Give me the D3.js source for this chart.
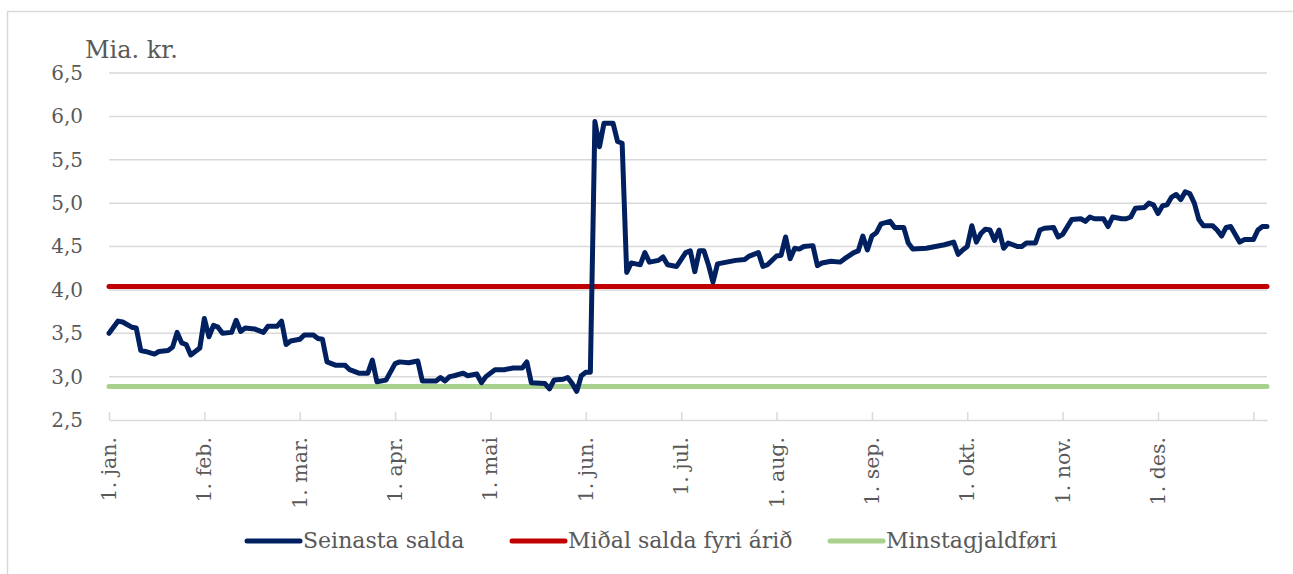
<!DOCTYPE html>
<html>
<head>
<meta charset="utf-8">
<script src="https://cdn.jsdelivr.net/npm/d3@7"></script>
<style>
body { margin: 0; background: #fff; }
.chart text { font-family: "DejaVu Serif", serif; fill: #595959; }
</style>
</head>
<body>
<div class="chart"></div>
<script>
// x = index of banking day, ticks every 21 days
var tickLabels = ["1. jan.", "1. feb.", "1. mar.", "1. apr.", "1. mai", "1. jun.",
    "1. jul.", "1. aug.", "1. sep.", "1. okt.", "1. nov.", "1. des."];
var tickStep = 21;
var lastIndex = 255;
var yTicks = [2.5, 3.0, 3.5, 4.0, 4.5, 5.0, 5.5, 6.0, 6.5];

var dayIndex = [0,2,3,5,6,7,8,10,11,13,14,15,16,17,18,20,21,22,23,24,25,27,28,29,30,32,34,35,37,38,39,40,42,43,45,46,47,48,50,52,53,55,57,58,59,61,63,64,66,68,69,72,73,74,75,76,78,79,81,82,83,85,87,89,91,92,93,96,97,98,100,101,102,103,104,105,106,107,108,109,111,112,113,114,115,116,117,118,119,121,122,123,125,127,128,129,130,131,132,133,134,136,138,140,141,143,144,145,147,148,149,150,151,152,153,155,156,157,159,161,162,164,165,166,167,168,169,170,172,173,175,176,177,180,182,184,186,187,188,189,190,191,192,193,194,195,196,197,198,200,201,202,204,205,206,208,209,210,212,214,215,216,217,219,220,221,223,224,225,226,228,229,230,231,232,233,234,235,236,237,238,239,240,241,243,244,245,246,247,249,250,252,253,254,255];
var seinastaSalda = [3.50,3.64,3.63,3.57,3.56,3.30,3.29,3.26,3.29,3.30,3.34,3.51,3.39,3.37,3.25,3.33,3.67,3.46,3.59,3.57,3.50,3.51,3.65,3.52,3.56,3.55,3.51,3.58,3.58,3.64,3.37,3.41,3.43,3.48,3.48,3.44,3.43,3.17,3.13,3.13,3.08,3.04,3.04,3.19,2.94,2.96,3.15,3.17,3.16,3.18,2.95,2.95,2.99,2.95,3.00,3.01,3.04,3.01,3.03,2.93,3.00,3.08,3.08,3.10,3.10,3.17,2.93,2.92,2.86,2.96,2.97,2.99,2.92,2.83,3.01,3.05,3.05,5.94,5.65,5.92,5.92,5.71,5.69,4.20,4.31,4.30,4.29,4.43,4.32,4.34,4.38,4.29,4.27,4.43,4.45,4.21,4.45,4.45,4.29,4.09,4.30,4.32,4.34,4.35,4.39,4.43,4.27,4.29,4.39,4.40,4.61,4.36,4.48,4.47,4.50,4.51,4.28,4.31,4.33,4.32,4.36,4.43,4.45,4.62,4.46,4.62,4.66,4.76,4.79,4.72,4.72,4.54,4.47,4.48,4.50,4.52,4.55,4.41,4.46,4.50,4.74,4.55,4.65,4.70,4.69,4.57,4.69,4.48,4.54,4.50,4.50,4.54,4.54,4.69,4.71,4.72,4.61,4.64,4.81,4.82,4.79,4.84,4.82,4.82,4.73,4.84,4.82,4.82,4.84,4.94,4.95,5.00,4.98,4.88,4.97,4.98,5.07,5.10,5.04,5.13,5.11,5.00,4.81,4.74,4.74,4.69,4.62,4.72,4.73,4.55,4.58,4.58,4.69,4.73,4.73];
var midalSalda = 4.04;
var minstagjaldfori = 2.885;

var seriesNames = ["Seinasta salda", "Miðal salda fyri árið", "Minstagjaldføri"];
var seriesColors = ["#002060", "#c00000", "#a9d18e"];

var svgWidth = 1293;
var svgHeight = 574;
var margin = { top: 73, right: 26, bottom: 154, left: 109 };
var width = svgWidth - margin.left - margin.right;
var height = svgHeight - margin.top - margin.bottom;

var root = d3.select(".chart")
    .append("svg")
    .attr("width", svgWidth)
    .attr("height", svgHeight);

// outer frame of the chart object
root.append("rect")
    .attr("x", 7.5)
    .attr("y", 11.5)
    .attr("width", svgWidth + 20)
    .attr("height", svgHeight + 20)
    .attr("fill", "none")
    .attr("stroke", "#d9d9d9")
    .attr("stroke-width", 1.5);

var chart = root.append("g")
    .attr("transform", "translate(" + margin.left + "," + margin.top + ")");

var xScale = d3.scaleLinear().domain([0, lastIndex]).range([0, width]);
var yScale = d3.scaleLinear().domain([2.5, 6.5]).range([height, 0]);

// gridlines
chart.append("g")
    .selectAll("line")
    .data(yTicks.slice(1))
    .enter().append("line")
        .attr("x1", 0)
        .attr("x2", width)
        .attr("y1", function(d) { return yScale(d); })
        .attr("y2", function(d) { return yScale(d); })
        .attr("stroke", "#d9d9d9")
        .attr("stroke-width", 1.5);

var leftAxis = d3.axisLeft(yScale)
    .tickValues(yTicks)
    .tickSize(0)
    .tickPadding(26)
    .tickFormat(function(d) { return d3.format(".1f")(d).replace(".", ","); });

var yAxis = chart.append("g").call(leftAxis);
yAxis.select(".domain").remove();
yAxis.selectAll("text").style("font-size", "20px");

var tickValues = d3.range(0, lastIndex, tickStep);
var bottomAxis = d3.axisBottom(xScale)
    .tickValues(tickValues)
    .tickSizeInner(-8)
    .tickSizeOuter(0)
    .tickFormat("");

var xAxis = chart.append("g")
    .attr("transform", "translate(0," + height + ")")
    .call(bottomAxis);
xAxis.select(".domain").attr("stroke", "#d9d9d9").attr("stroke-width", 1.5);
xAxis.selectAll(".tick line").attr("stroke", "#d9d9d9").attr("stroke-width", 1.5);

chart.append("g")
    .selectAll("text")
    .data(tickLabels)
    .enter().append("text")
        .attr("transform", function(d, i) {
            return "translate(" + (xScale(tickValues[i]) + 7) + "," + (height + 17) + ") rotate(-90)";
        })
        .attr("text-anchor", "end")
        .style("font-size", "20.5px")
        .text(function(d) { return d; });

// y axis title
root.append("text")
    .attr("x", 85)
    .attr("y", 58)
    .style("font-size", "24px")
    .text("Mia. kr.");

var line = d3.line()
    .x(function(d) { return xScale(d[0]); })
    .y(function(d) { return yScale(d[1]); });

var flatLines = [
    { value: midalSalda, color: seriesColors[1] },
    { value: minstagjaldfori, color: seriesColors[2] }
];

flatLines.forEach(function(s) {
    chart.append("path")
        .datum([[0, s.value], [lastIndex, s.value]])
        .attr("d", line)
        .attr("fill", "none")
        .attr("stroke", s.color)
        .attr("stroke-width", 5)
        .attr("stroke-linecap", "round");
});

chart.append("path")
    .datum(dayIndex.map(function(d, i) { return [d, seinastaSalda[i]]; }))
    .attr("d", line)
    .attr("fill", "none")
    .attr("stroke", seriesColors[0])
    .attr("stroke-width", 5)
    .attr("stroke-linejoin", "round")
    .attr("stroke-linecap", "round");

// legend
var legendX = [245, 510, 828];
var legend = root.append("g")
    .selectAll("g")
    .data(seriesNames)
    .enter().append("g")
        .attr("transform", function(d, i) { return "translate(" + legendX[i] + ",541)"; });

legend.append("line")
    .attr("x1", 2)
    .attr("x2", 55)
    .attr("stroke", function(d, i) { return seriesColors[i]; })
    .attr("stroke-width", 5)
    .attr("stroke-linecap", "round");

legend.append("text")
    .attr("x", 58)
    .attr("y", 7)
    .style("font-size", "22px")
    .text(function(d) { return d; });
</script>
</body>
</html>
